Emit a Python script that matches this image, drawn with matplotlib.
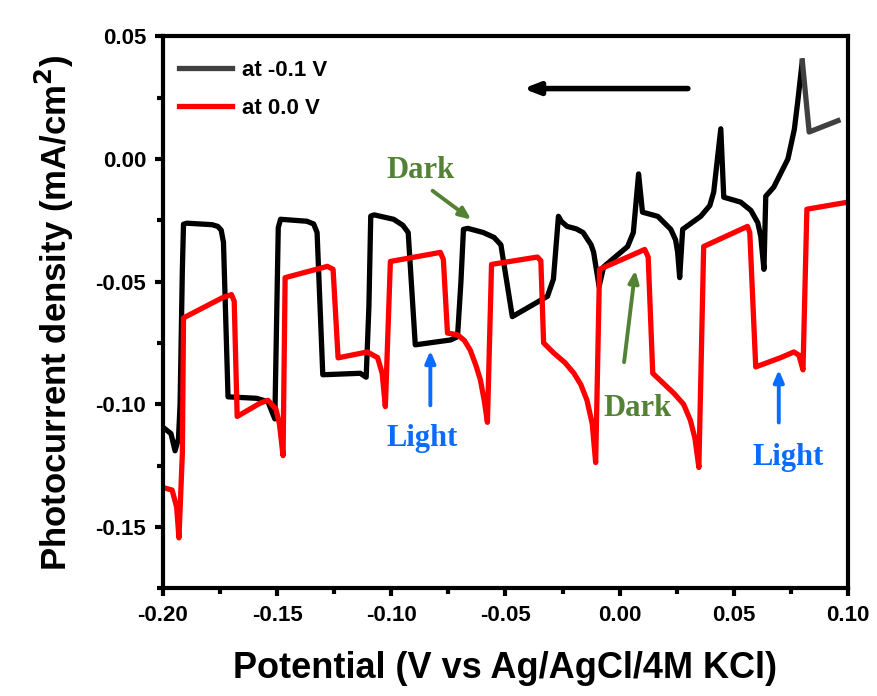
import matplotlib
matplotlib.use("Agg")
import matplotlib.pyplot as plt
from matplotlib.ticker import MultipleLocator

plt.rcParams['font.family'] = ['Liberation Sans', 'DejaVu Sans']

# at -0.1 V (black), potential in V, current in mA/cm2
x_m01 = [-0.200, -0.1965, -0.1947, -0.1932, -0.1925, -0.1915, -0.191, -0.1895, -0.1785, -0.1760,
         -0.1745, -0.1735, -0.1715, -0.159, -0.154, -0.151, -0.1505, -0.1495, -0.1485, -0.137,
         -0.134, -0.1325, -0.130, -0.1136, -0.111, -0.1098, -0.109, -0.1075, -0.099, -0.095,
         -0.0926, -0.0895, -0.074, -0.071, -0.0695, -0.0684, -0.0665, -0.0597, -0.055, -0.052,
         -0.047, -0.0316, -0.029, -0.0268, -0.0255, -0.023, -0.019, -0.016, -0.0125, -0.0114,
         -0.009, -0.007, -0.002, 0.0035, 0.006, 0.0083, 0.010, 0.0167, 0.0224, 0.0245,
         0.0254, 0.0263, 0.0276, 0.0355, 0.0395, 0.0412, 0.0443, 0.0456, 0.053, 0.0575,
         0.0605, 0.0618, 0.0632, 0.064, 0.0675, 0.0737, 0.0765, 0.078, 0.080]
y_m01 = [-0.1094, -0.112, -0.119, -0.114, -0.100, -0.045, -0.0266, -0.0262, -0.0268, -0.0275,
         -0.029, -0.034, -0.097, -0.0976, -0.099, -0.106, -0.080, -0.028, -0.0246, -0.0254,
         -0.0265, -0.030, -0.088, -0.0874, -0.089, -0.060, -0.0233, -0.0228, -0.0246, -0.027,
         -0.030, -0.0758, -0.0738, -0.0725, -0.050, -0.0287, -0.0283, -0.030, -0.032, -0.035,
         -0.0643, -0.056, -0.049, -0.0234, -0.0255, -0.0275, -0.0285, -0.030, -0.035, -0.038,
         -0.052, -0.044, -0.040, -0.0357, -0.030, -0.0061, -0.0217, -0.0234, -0.0287, -0.033,
         -0.038, -0.0484, -0.0287, -0.0234, -0.019, -0.0135, 0.0123, -0.0156, -0.0176, -0.021,
         -0.026, -0.0316, -0.045, -0.0152, -0.0115, 0.0, 0.012, 0.0234, 0.040]
x_m01_tail = [0.080, 0.083, 0.0956]
y_m01_tail = [0.040, 0.011, 0.0156]

# at 0.0 V (red)
x_00 = [-0.200, -0.196, -0.194, -0.193, -0.1915, -0.191, -0.174, -0.170, -0.1688, -0.1675,
        -0.1575, -0.154, -0.1505, -0.149, -0.1474, -0.1465, -0.128, -0.1255, -0.1233, -0.1105,
        -0.106, -0.104, -0.1026, -0.1004, -0.0785, -0.0772, -0.0754, -0.071, -0.068, -0.0654,
        -0.063, -0.061, -0.0592, -0.0579, -0.0561, -0.036, -0.0345, -0.0333, -0.029, -0.024,
        -0.020, -0.017, -0.0143, -0.012, -0.0105, -0.0088, 0.0035, 0.011, 0.0125, 0.0145,
        0.0237, 0.028, 0.031, 0.033, 0.0347, 0.0368, 0.056, 0.057, 0.0596, 0.0706,
        0.0763, 0.0785, 0.0803, 0.082, 0.100]
y_00 = [-0.134, -0.135, -0.142, -0.1545, -0.120, -0.0648, -0.0566, -0.0553, -0.058, -0.105,
        -0.0996, -0.0984, -0.102, -0.108, -0.121, -0.0484, -0.0438, -0.045, -0.0811, -0.0787,
        -0.081, -0.0874, -0.101, -0.0418, -0.0381, -0.041, -0.071, -0.0717, -0.074, -0.078,
        -0.084, -0.090, -0.099, -0.1074, -0.043, -0.040, -0.0415, -0.075, -0.079, -0.083,
        -0.0874, -0.092, -0.0984, -0.108, -0.1238, -0.045, -0.040, -0.0369, -0.040, -0.0874,
        -0.0955, -0.100, -0.1066, -0.114, -0.1258, -0.0357, -0.0275, -0.030, -0.0848, -0.081,
        -0.0787, -0.080, -0.086, -0.0205, -0.0176]

fig = plt.figure(figsize=(8.78, 6.96), dpi=100)
ax = fig.add_axes([0.1856, 0.155, 0.7802, 0.7928])

lw = 3.8
ax.plot(x_m01, y_m01, color='black', lw=lw, solid_joinstyle='round', solid_capstyle='round')
ax.plot(x_m01_tail, y_m01_tail, color='#404040', lw=lw, label='at -0.1 V')
ax.plot(x_00, y_00, color='#ff0000', lw=lw, label='at 0.0 V', solid_joinstyle='round')

ax.set_xlim(-0.20, 0.10)
ax.set_ylim(-0.175, 0.05)
ax.xaxis.set_major_locator(MultipleLocator(0.05))
ax.xaxis.set_minor_locator(MultipleLocator(0.025))
ax.yaxis.set_major_locator(MultipleLocator(0.05))
ax.yaxis.set_minor_locator(MultipleLocator(0.025))
ax.xaxis.set_major_formatter(plt.FormatStrFormatter('%.2f'))
ax.yaxis.set_major_formatter(plt.FormatStrFormatter('%.2f'))

for s in ax.spines.values():
    s.set_linewidth(3)
ax.tick_params(which='major', direction='out', length=6, width=3, labelsize=16, pad=6)
ax.tick_params(which='minor', direction='out', length=4, width=3)
for lab in ax.get_xticklabels() + ax.get_yticklabels():
    lab.set_fontweight('bold')

ax.set_xlabel('Potential (V vs Ag/AgCl/4M KCl)', fontsize=26, fontweight='bold', labelpad=18)
ax.set_ylabel('Photocurrent density (mA/cm$^\\mathbf{2}$)', fontsize=25, fontweight='bold', labelpad=14)

leg = ax.legend(loc='upper left', frameon=False, prop={'weight': 'bold', 'size': 16},
                handlelength=2.4, handletextpad=0.45, borderaxespad=0.3, labelspacing=0.75,
                bbox_to_anchor=(0.0, 0.985))

# scan direction arrow
ax.annotate('', xy=(-0.0434, 0.0287), xytext=(0.0311, 0.0287),
            arrowprops=dict(arrowstyle='-|>,head_length=0.9,head_width=0.35', color='black', lw=4))

green = '#548235'
blue = '#0a6cff'
serif = dict(family=['Liberation Serif', 'DejaVu Serif'], fontweight='bold', fontsize=22)

ax.annotate('', xy=(-0.064, -0.0254), xytext=(-0.0829, -0.0123),
            arrowprops=dict(arrowstyle='-|>,head_length=0.7,head_width=0.3', color=green, lw=2.8))
ax.text(-0.0873, -0.0049, 'Dark', color=green, ha='center', va='center', **serif)

ax.annotate('', xy=(-0.0829, -0.077), xytext=(-0.0829, -0.1016),
            arrowprops=dict(arrowstyle='-|>,head_length=0.7,head_width=0.3', color=blue, lw=2.8))
ax.text(-0.0864, -0.114, 'Light', color=blue, ha='center', va='center', **serif)

ax.annotate('', xy=(0.0070, -0.0443), xytext=(0.0018, -0.084),
            arrowprops=dict(arrowstyle='-|>,head_length=0.7,head_width=0.3', color=green, lw=2.8))
ax.text(0.0079, -0.1016, 'Dark', color=green, ha='center', va='center', **serif)

ax.annotate('', xy=(0.0697, -0.0848), xytext=(0.0697, -0.1086),
            arrowprops=dict(arrowstyle='-|>,head_length=0.7,head_width=0.3', color=blue, lw=2.8))
ax.text(0.0737, -0.1217, 'Light', color=blue, ha='center', va='center', **serif)

fig.savefig('out.png', dpi=100)
